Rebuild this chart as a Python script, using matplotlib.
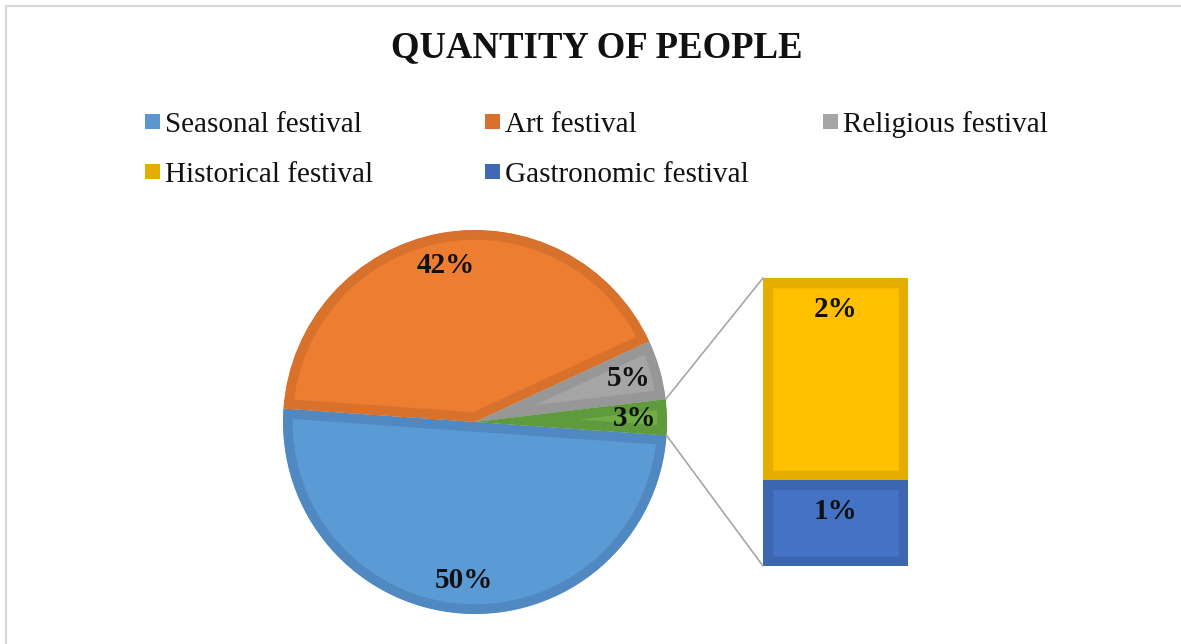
import numpy as np
import matplotlib.pyplot as plt
from matplotlib.patches import ConnectionPatch, Rectangle
from matplotlib.lines import Line2D

plt.rcParams['font.family'] = ['Liberation Serif', 'DejaVu Serif']

# pie: the last slice is split out into the stacked bar
pie_names = ['Seasonal festival', 'Art festival', 'Religious festival', 'Other']
pie_values = [50, 42, 5, 3]
pie_colors = ['#5B9BD5', '#ED7D31', '#A5A5A5', '#70AD47']
pie_edges = ['#5089C2', '#D8712C', '#979797', '#5F9A3C']

# stacked bar, bottom to top
bar_names = ['Gastronomic festival', 'Historical festival']
bar_values = [0.9, 2.1]
bar_colors = ['#4472C4', '#FFC000']
bar_edges = ['#3D66B0', '#E5AD00']

legend_names = ['Seasonal festival', 'Art festival', 'Religious festival',
                'Historical festival', 'Gastronomic festival']
legend_colors = ['#5A96CF', '#D9702D', '#A5A5A5', '#E5AD00', '#4068B5']

W, H = 1181, 644
fig = plt.figure(figsize=(W / 100, H / 100), dpi=100)

# chart area frame (top and left only)
frame_kw = dict(transform=fig.transFigure, color='#D9D9D9', lw=1.5)
fig.add_artist(Line2D([6 / W, 1], [1 - 6 / H, 1 - 6 / H], **frame_kw))
fig.add_artist(Line2D([6 / W, 6 / W], [0, 1 - 6 / H], **frame_kw))

fig.text(597 / W, 1 - 48 / H, 'QUANTITY OF PEOPLE', ha='center', va='center',
         fontsize=26.5, fontweight='bold', color='#111111')

# legend, laid out row by row in three columns
col_x = [145, 485, 823]
row_base = [132, 182]
for i, (name, c) in enumerate(zip(legend_names, legend_colors)):
    x = col_x[i % 3]
    yb = row_base[i // 3]
    fig.add_artist(Rectangle((x / W, 1 - (yb - 3) / H), 15 / W, 15 / H,
                             transform=fig.transFigure, color=c, lw=0))
    fig.text((x + 20) / W, 1 - yb / H, name, va='baseline', ha='left',
             fontsize=21, color='#111111')

# pie
ax1 = fig.add_axes([283 / W, 1 - 614 / H, 384 / W, 384 / H])
wedges, _, autotexts = ax1.pie(
    pie_values, colors=pie_colors, startangle=-4, counterclock=False,
    autopct=lambda p: f'{p:.0f}%', pctdistance=0.83,
    textprops=dict(fontsize=21, fontweight='bold', color='#111111'))
# darker rim drawn only on the inside of each slice
for w, ec in zip(wedges, pie_edges):
    w.set_edgecolor(ec)
    w.set_linewidth(14)
    w.set_clip_on(True)
    w.set_clip_path(w)
ax1.set_xlim(-1, 1)
ax1.set_ylim(-1, 1)
ax1.axis('off')

# stacked bar for the split-out slice
ax2 = fig.add_axes([763 / W, 1 - 566 / H, 145 / W, 288 / H])
bottom = 0
for v, c, ec in zip(bar_values, bar_colors, bar_edges):
    bc = ax2.bar(0, v, width=1, bottom=bottom, color=c, edgecolor=ec, linewidth=14)
    for p in bc.patches:
        p.set_clip_path(p)
    ax2.annotate(f'{v:.0f}%', xy=(0, bottom + v), xytext=(0, -23),
                 textcoords='offset points', ha='center', va='center',
                 fontsize=21, fontweight='bold', color='#111111')
    bottom += v
ax2.set_xlim(-0.5, 0.5)
ax2.set_ylim(0, bottom)
ax2.axis('off')

# connector lines from the split slice to the bar corners
other = wedges[-1]
for theta, ybar in [(other.theta2, bottom), (other.theta1, 0)]:
    t = np.deg2rad(theta)
    con = ConnectionPatch(xyA=(np.cos(t), np.sin(t)), coordsA=ax1.transData,
                          xyB=(-0.5, ybar), coordsB=ax2.transData,
                          color='#A6A6A6', lw=1.2)
    fig.add_artist(con)

fig.savefig('out.png', dpi=100)
